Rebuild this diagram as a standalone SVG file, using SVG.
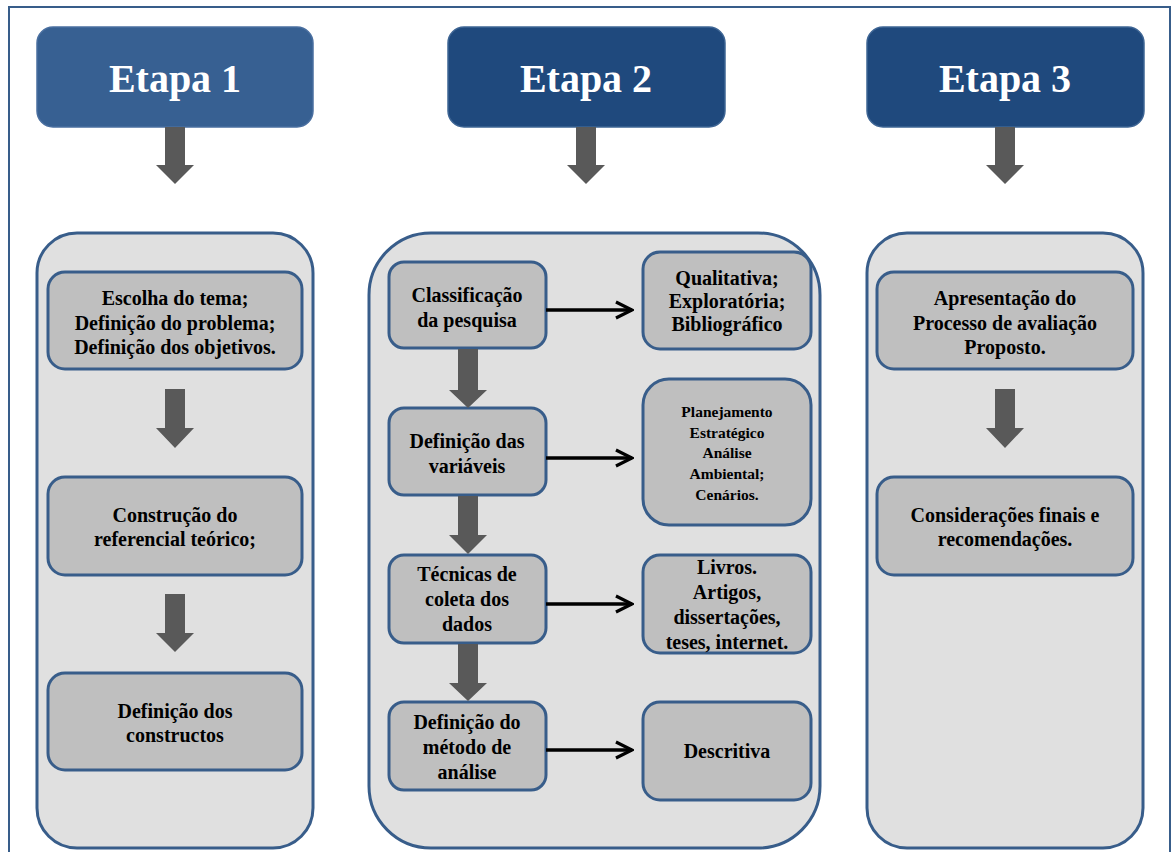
<svg xmlns="http://www.w3.org/2000/svg" width="1171" height="852" viewBox="0 0 1171 852">
<defs>
<style>
.frame{fill:none;stroke:#385D8A;stroke-width:2}
.etapa1{fill:#376092;stroke:#4A6FA0;stroke-width:1.5}
.etapa{fill:#1F497D;stroke:#3E6594;stroke-width:1.5}
.etxt{font-family:"Liberation Serif","Times New Roman",serif;font-weight:bold;font-size:40px;fill:#FFFFFF;text-anchor:middle}
.cont{fill:#E0E0E0;stroke:#385D8A;stroke-width:3}
.box{fill:#BFBFBF;stroke:#385D8A;stroke-width:3}
.t{font-family:"Liberation Serif","Times New Roman",serif;font-weight:bold;font-size:20px;fill:#000000;text-anchor:middle}
.ts{font-family:"Liberation Serif","Times New Roman",serif;font-weight:bold;font-size:15.5px;fill:#000000;text-anchor:middle}
.bigarrow{fill:#595959}
.conn{fill:none;stroke:#000000;stroke-width:3.5}
</style>
<marker id="chev" viewBox="0 0 12 12" refX="11" refY="6" markerWidth="5.5" markerHeight="5.5" markerUnits="strokeWidth" orient="auto">
<path d="M1,1 L11,6 L1,11" fill="none" stroke="#000000" stroke-width="2"/>
</marker>
</defs>

<path class="frame" d="M9,852 V7 H1170 V852"/>

<g id="etapa1">
<rect class="etapa1" x="37" y="27" width="276" height="100" rx="16"/>
<text class="etxt" x="175" y="92">Etapa 1</text>
</g>
<g id="etapa2">
<rect class="etapa" x="448" y="27" width="277" height="100" rx="16"/>
<text class="etxt" x="586" y="92">Etapa 2</text>
</g>
<g id="etapa3">
<rect class="etapa" x="867" y="27" width="277" height="100" rx="16"/>
<text class="etxt" x="1005" y="92">Etapa 3</text>
</g>

<g id="col1">
<rect class="cont" x="37" y="233" width="276" height="615" rx="40"/>
</g>
<g id="col2">
<rect class="cont" x="369" y="233" width="451" height="615" rx="62"/>
</g>
<g id="col3">
<rect class="cont" x="867" y="233" width="276" height="615" rx="40"/>
</g>

<g id="c1b1">
<rect class="box" x="48" y="272" width="254" height="97" rx="17"/>
<text class="t" x="175" y="305">Escolha do tema;</text>
<text class="t" x="175" y="330">Definição do problema;</text>
<text class="t" x="175" y="354">Definição dos objetivos.</text>
</g>
<g id="c1b2">
<rect class="box" x="48" y="477" width="254" height="98" rx="17"/>
<text class="t" x="175" y="522">Construção do</text>
<text class="t" x="175" y="546">referencial teórico;</text>
</g>
<g id="c1b3">
<rect class="box" x="48" y="673" width="254" height="97" rx="17"/>
<text class="t" x="175" y="718">Definição dos</text>
<text class="t" x="175" y="742">constructos</text>
</g>

<g id="c2l1">
<rect class="box" x="389" y="262" width="157" height="86" rx="15"/>
<text class="t" x="467" y="302">Classificação</text>
<text class="t" x="467" y="327">da pesquisa</text>
</g>
<g id="c2l2">
<rect class="box" x="389" y="408" width="157" height="87" rx="15"/>
<text class="t" x="467" y="448">Definição das</text>
<text class="t" x="467" y="473">variáveis</text>
</g>
<g id="c2l3">
<rect class="box" x="389" y="555" width="157" height="88" rx="15"/>
<text class="t" x="467" y="581">Técnicas de</text>
<text class="t" x="467" y="606">coleta dos</text>
<text class="t" x="467" y="631">dados</text>
</g>
<g id="c2l4">
<rect class="box" x="389" y="702" width="157" height="88" rx="15"/>
<text class="t" x="467" y="729">Definição do</text>
<text class="t" x="467" y="754">método de</text>
<text class="t" x="467" y="779">análise</text>
</g>

<g id="c2r1">
<rect class="box" x="643" y="252" width="168" height="97" rx="17"/>
<text class="t" x="727" y="285">Qualitativa;</text>
<text class="t" x="727" y="308">Exploratória;</text>
<text class="t" x="727" y="331">Bibliográfico</text>
</g>
<g id="c2r2">
<rect class="box" x="643" y="379" width="168" height="146" rx="26"/>
<text class="ts" x="727" y="417">Planejamento</text>
<text class="ts" x="727" y="438">Estratégico</text>
<text class="ts" x="727" y="458">Análise</text>
<text class="ts" x="727" y="479">Ambiental;</text>
<text class="ts" x="727" y="500">Cenários.</text>
</g>
<g id="c2r3">
<rect class="box" x="643" y="555" width="168" height="98" rx="17"/>
<text class="t" x="727" y="574">Livros.</text>
<text class="t" x="727" y="599">Artigos,</text>
<text class="t" x="727" y="624">dissertações,</text>
<text class="t" x="727" y="649">teses, internet.</text>
</g>
<g id="c2r4">
<rect class="box" x="643" y="702" width="168" height="98" rx="17"/>
<text class="t" x="727" y="758">Descritiva</text>
</g>

<g id="c3b1">
<rect class="box" x="877" y="272" width="256" height="97" rx="17"/>
<text class="t" x="1005" y="305">Apresentação do</text>
<text class="t" x="1005" y="330">Processo de avaliação</text>
<text class="t" x="1005" y="354">Proposto.</text>
</g>
<g id="c3b2">
<rect class="box" x="877" y="477" width="256" height="98" rx="17"/>
<text class="t" x="1005" y="522">Considerações finais e</text>
<text class="t" x="1005" y="546">recomendações.</text>
</g>

<g id="connectors">
<path class="bigarrow" d="M165,127 H185 V165 H194 L175,184 L156,165 H165 Z"/>
<path class="bigarrow" d="M576,127 H596 V165 H605 L586,184 L567,165 H576 Z"/>
<path class="bigarrow" d="M995,127 H1015 V165 H1024 L1005,184 L986,165 H995 Z"/>
<path class="bigarrow" d="M165,389 H185 V428 H194 L175,448 L156,428 H165 Z"/>
<path class="bigarrow" d="M165,594 H185 V633 H194 L175,652 L156,633 H165 Z"/>
<path class="bigarrow" d="M995,389 H1015 V428 H1024 L1005,448 L986,428 H995 Z"/>
<path class="bigarrow" d="M458,349 H478 V390 H487 L468,408 L449,390 H458 Z"/>
<path class="bigarrow" d="M458,496 H478 V535 H487 L468,554 L449,535 H458 Z"/>
<path class="bigarrow" d="M458,644 H478 V683 H487 L468,701 L449,683 H458 Z"/>
<line class="conn" x1="546" y1="310" x2="632" y2="310" marker-end="url(#chev)"/>
<line class="conn" x1="546" y1="458" x2="632" y2="458" marker-end="url(#chev)"/>
<line class="conn" x1="546" y1="604" x2="632" y2="604" marker-end="url(#chev)"/>
<line class="conn" x1="546" y1="750" x2="632" y2="750" marker-end="url(#chev)"/>
</g>
</svg>
